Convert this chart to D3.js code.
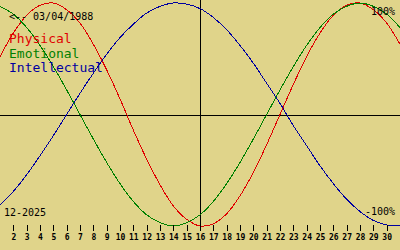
<!DOCTYPE html>
<html>
<head>
<meta charset="utf-8">
<script src="https://cdn.jsdelivr.net/npm/d3@7"></script>
<style>
  body { margin: 0; background: #e0d48a; }
  svg { display: block; }
  text { font-family: 'DejaVu Sans Mono', monospace; }
</style>
</head>
<body>
<svg></svg>
<script>
var width = 400;
var height = 250;

// days of the month shown (12-2025)
var days = [1, 2, 3, 4, 5, 6, 7, 8, 9, 10, 11, 12, 13, 14, 15, 16,
            17, 18, 19, 20, 21, 22, 23, 24, 25, 26, 27, 28, 29, 30, 31];

// cycle values, -1..1
var physical = [0.52, 0.73, 0.89, 0.98, 1.00, 0.94, 0.82, 0.63, 0.40, 0.14, -0.14,
                -0.40, -0.63, -0.82, -0.94, -1.00, -0.98, -0.89, -0.73, -0.52, -0.27,
                0.00, 0.27, 0.52, 0.73, 0.89, 0.98, 1.00, 0.94, 0.82, 0.63];
var emotional = [0.97, 0.90, 0.78, 0.62, 0.43, 0.22, 0.00, -0.22, -0.43, -0.62, -0.78,
                 -0.90, -0.97, -1.00, -0.97, -0.90, -0.78, -0.62, -0.43, -0.22, 0.00,
                 0.22, 0.43, 0.62, 0.78, 0.90, 0.97, 1.00, 0.97, 0.90, 0.78];
var intellectual = [-0.81, -0.69, -0.54, -0.37, -0.19, 0.00, 0.19, 0.37, 0.54, 0.69, 0.81,
                    0.91, 0.97, 1.00, 0.99, 0.95, 0.87, 0.76, 0.62, 0.46, 0.28,
                    0.10, -0.10, -0.28, -0.46, -0.62, -0.76, -0.87, -0.95, -0.99, -1.00];

var series = [['Physical', physical, '#e00000'],
              ['Emotional', emotional, '#008000'],
              ['Intellectual', intellectual, '#0000a0']];

// tick labels along the bottom
var tickDays = [2, 3, 4, 5, 6, 7, 8, 9, 10, 11, 12, 13, 14, 15, 16,
                17, 18, 19, 20, 21, 22, 23, 24, 25, 26, 27, 28, 29, 30];

var birthLabel = '<-- 03/04/1988';
var monthLabel = '12-2025';
var today = 16;

var svg = d3.select('svg')
            .attr('width', width)
            .attr('height', height);

var xScale = d3.scaleLinear()
               .domain([1, 31])
               .range([0, width]);

var yScale = d3.scaleLinear()
               .domain([-1, 1])
               .range([226, 3]);

svg.append('rect')
   .attr('width', width)
   .attr('height', height)
   .attr('fill', '#e0d48a');

// zero line and today line
svg.append('line')
   .attr('x1', 0)
   .attr('x2', width)
   .attr('y1', Math.round(yScale(0)) + 0.5)
   .attr('y2', Math.round(yScale(0)) + 0.5)
   .attr('stroke', '#000')
   .attr('shape-rendering', 'crispEdges');

svg.append('line')
   .attr('x1', Math.round(xScale(today)) + 0.5)
   .attr('x2', Math.round(xScale(today)) + 0.5)
   .attr('y1', 0)
   .attr('y2', 225)
   .attr('stroke', '#000')
   .attr('shape-rendering', 'crispEdges');

// curves
var line = d3.line()
             .x((d, i) => xScale(days[i]))
             .y((d) => yScale(d))
             .curve(d3.curveCatmullRom);

svg.selectAll('.cycle')
   .data(series)
   .enter()
   .append('path')
   .attr('class', 'cycle')
   .attr('d', (s) => line(s[1]))
   .attr('fill', 'none')
   .attr('stroke', (s) => s[2])
   .attr('stroke-width', 1)
   .attr('shape-rendering', 'crispEdges');

// bottom axis
var xAxis = d3.axisBottom(xScale)
              .tickValues(tickDays)
              .tickSize(6)
              .tickSizeOuter(0)
              .tickFormat(d3.format('d'));

var axis = svg.append('g')
              .attr('transform', 'translate(0, 225)')
              .call(xAxis);

axis.select('.domain').remove();
axis.selectAll('.tick line')
    .attr('stroke', '#000')
    .attr('shape-rendering', 'crispEdges');
axis.selectAll('.tick text')
    .attr('y', 9)
    .attr('dy', '0.71em')
    .attr('fill', '#000')
    .style('font-family', "'DejaVu Sans Mono', monospace")
    .style('font-size', '8px')
    .style('font-weight', 'bold');

// labels
svg.append('text')
   .attr('x', 9)
   .attr('y', 20)
   .style('font-size', '10px')
   .attr('fill', '#000')
   .text(birthLabel);

svg.selectAll('.legend')
   .data(series)
   .enter()
   .append('text')
   .attr('class', 'legend')
   .attr('x', 9)
   .attr('y', (s, i) => 43 + i * 14.5)
   .style('font-size', '13px')
   .attr('fill', (s) => s[2])
   .text((s) => s[0]);

svg.append('text')
   .attr('x', 4)
   .attr('y', 216)
   .style('font-size', '10px')
   .attr('fill', '#000')
   .text(monthLabel);

svg.append('text')
   .attr('x', 395)
   .attr('y', 15)
   .style('font-size', '10px')
   .style('text-anchor', 'end')
   .attr('fill', '#000')
   .text('100%');

svg.append('text')
   .attr('x', 395)
   .attr('y', 215)
   .style('font-size', '10px')
   .style('text-anchor', 'end')
   .attr('fill', '#000')
   .text('-100%');
</script>
</body>
</html>
